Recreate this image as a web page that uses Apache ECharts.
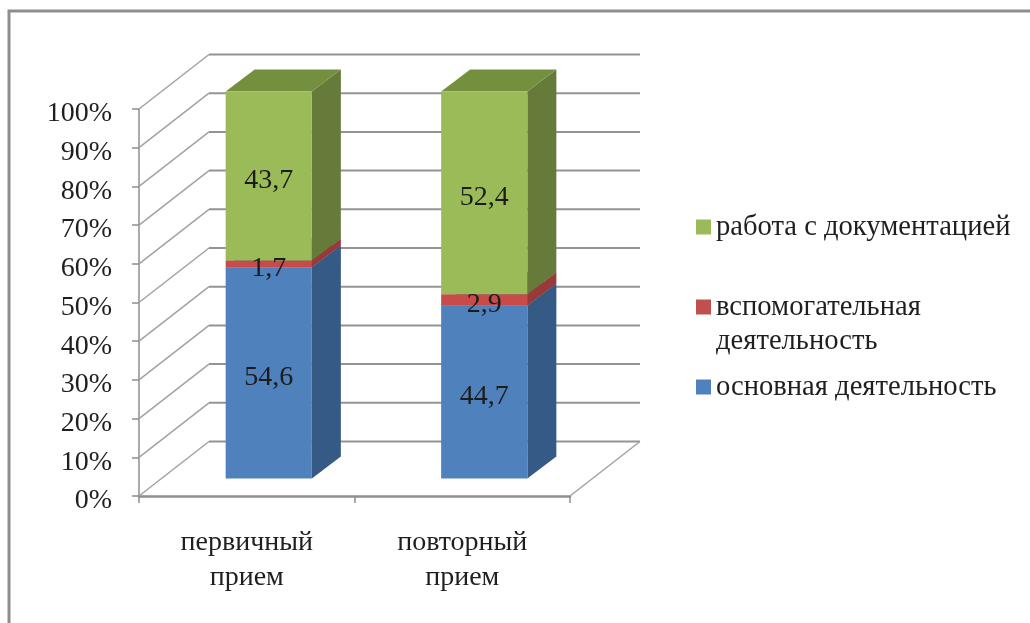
<!DOCTYPE html>
<html>
<head>
<meta charset="utf-8">
<style>html,body{margin:0;padding:0;background:#fff}#c{width:1030px;height:623px}</style>
<script src="https://cdn.jsdelivr.net/npm/echarts@6/dist/echarts.min.js"></script>
</head>
<body>
<div id="c"></div>
<script>
var categories = ['первичный\nприем', 'повторный\nприем'];
var tickValues = [0, 10, 20, 30, 40, 50, 60, 70, 80, 90, 100];
var mainWork = [54.6, 44.7];
var auxWork = [1.7, 2.9];
var paperWork = [43.7, 52.4];
var names = ['основная деятельность', 'вспомогательная деятельность', 'работа с документацией'];

var FONT = '"Liberation Serif", serif';
var FS = 28;
var WALL = [70, -54.5], BAR_SHIFT = [22, -17.5], DEPTH = [29, -22], BAR_W = 0.4;
var PAL = [
  {front: '#4f81bd', side: '#345a85', top: '#3f6797'},
  {front: '#c84b49', side: '#9a3a38', top: '#a83f3d'},
  {front: '#9bbb59', side: '#667a3a', top: '#74903f'}
];
var stackData = [mainWork, auxWork, paperWork];

function barSeries(idx) {
  return {
    type: 'custom', name: names[idx], coordinateSystem: 'cartesian2d', silent: true, z: 3,
    itemStyle: {color: ['#4f81bd', '#c0504d', '#9bbb59'][idx]},
    data: stackData[idx].map(function (v, i) { return [i, v]; }),
    encode: {x: 0, y: 1},
    renderItem: function (params, api) {
      var i = api.value(0), val = api.value(1), base = 0;
      for (var k = 0; k < idx; k++) base += stackData[k][i];
      var a = api.coord([i, base]), b = api.coord([i, base + val]);
      var w = api.size([1, 0])[0] * BAR_W;
      var x0 = a[0] + BAR_SHIFT[0] - w / 2, x1 = x0 + w;
      var y0 = a[1] + BAR_SHIFT[1], y1 = b[1] + BAR_SHIFT[1];
      var c = PAL[idx];
      var dx = DEPTH[0], dy = DEPTH[1];
      var kids = [
        {type: 'polygon', shape: {points: [[x1, y0], [x1 + dx, y0 + dy], [x1 + dx, y1 + dy], [x1, y1]]}, style: {fill: c.side}},
        {type: 'polygon', shape: {points: [[x0, y1], [x1, y1], [x1 + dx, y1 + dy], [x0 + dx, y1 + dy]]}, style: {fill: c.top}},
        {type: 'rect', shape: {x: x0, y: y1, width: w, height: y0 - y1}, style: {fill: c.front}},
        {type: 'text', z2: 100, style: {
          text: String(val).replace('.', ','), x: (x0 + x1) / 2, y: (y0 + y1) / 2 + 5,
          align: 'center', verticalAlign: 'middle', fill: '#1c1c1c', font: FS + 'px ' + FONT
        }}
      ];
      return {type: 'group', children: kids};
    }
  };
}

var wallSeries = {
  type: 'custom', coordinateSystem: 'cartesian2d', silent: true, z: 1,
  data: tickValues.map(function (v) { return [0, v]; }),
  encode: {x: 0, y: 1},
  renderItem: function (params, api) {
    var v = api.value(1), cs = params.coordSys;
    var y = api.coord([0, v])[1];
    var left = cs.x, right = cs.x + cs.width;
    var kids = [
      {type: 'polyline', shape: {points: [[left, y], [left + WALL[0], y + WALL[1]]]}, style: {stroke: '#a2a2a2', lineWidth: 1.5, fill: null}},
      {type: 'line', shape: {x1: left + WALL[0], y1: y + WALL[1], x2: right + WALL[0], y2: y + WALL[1]}, style: {stroke: '#939393', lineWidth: 2}}
    ];
    if (v === 0) {
      kids.push({type: 'line', shape: {x1: right, y1: y, x2: right + WALL[0], y2: y + WALL[1]}, style: {stroke: '#a2a2a2', lineWidth: 1.5}});
    }
    return {type: 'group', children: kids};
  }
};

var chart = echarts.init(document.getElementById('c'), null, {renderer: 'canvas'});
chart.setOption({
  animation: false,
  backgroundColor: '#fff',
  grid: {left: 139, top: 109, width: 431, height: 387, containLabel: false},
  xAxis: {
    type: 'category', data: categories, boundaryGap: true,
    axisLine: {lineStyle: {color: '#8f8f8f', width: 2.5}},
    axisTick: {show: true, length: 7, alignWithLabel: false, lineStyle: {color: '#8f8f8f', width: 1.5}},
    axisLabel: {color: '#1f1f1f', fontFamily: FONT, fontSize: FS, lineHeight: 35, margin: 29}
  },
  yAxis: {
    type: 'value', min: 0, max: 100, interval: 10,
    splitLine: {show: false},
    axisLine: {show: true, lineStyle: {color: '#8f8f8f', width: 1.5}},
    axisTick: {show: true, length: 7, lineStyle: {color: '#8f8f8f', width: 1.5}},
    axisLabel: {color: '#1f1f1f', fontFamily: FONT, fontSize: FS, margin: 27, verticalAlign: 'top', lineHeight: 10, formatter: '{value}%'}
  },
  legend: {
    left: 691, top: 201, orient: 'vertical', itemWidth: 15, itemHeight: 15, itemGap: 4,
    selectedMode: false, icon: 'rect',
    data: [names[2], names[1], names[0]],
    formatter: function (n) {
      return n === names[1] ? ' \nвспомогательная\nдеятельность' : n;
    },
    textStyle: {color: '#1f1f1f', fontFamily: FONT, fontSize: 28.6, lineHeight: 34, padding: [8, 0, 0, 0]}
  },
  graphic: [{
    type: 'rect', silent: true, z: 0,
    shape: {x: 9, y: 11, width: 1040, height: 640},
    style: {fill: 'none', stroke: '#8e8e8e', lineWidth: 3}
  }],
  series: [wallSeries, barSeries(0), barSeries(1), barSeries(2)]
});
</script>
</body>
</html>
